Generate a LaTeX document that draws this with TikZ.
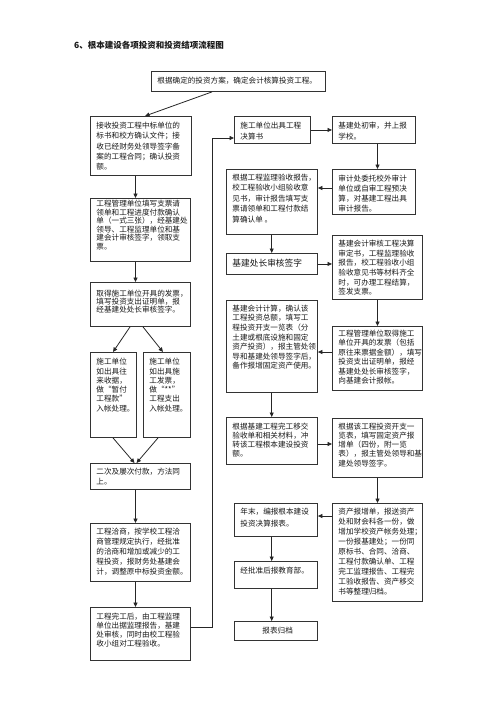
\documentclass[tikz,border=0pt]{standalone}
\usepackage{fontspec}
\newfontfamily\cjk{Noto Sans CJK SC}
\usetikzlibrary{arrows.meta,calc}
% #1 name, #2 x1, #3 y1, #4 x2, #5 y2, #6 font size, #7 line skip, #8 top pad, #9 text
\newcommand{\fbx}[9]{%
\node[boxst] (#1) at (#2,#3) {\begin{minipage}[c][\dimexpr #5pt-#3pt\relax][t]{\dimexpr #4pt-#2pt\relax}\cjk\fontsize{#6pt}{#7pt}\selectfont\leftskip=6pt\relax\vspace*{#8pt}#9\par\end{minipage}};}
\tikzset{
  boxst/.style={draw=black!80, line width=0.9pt, anchor=north west, inner sep=0pt, text=black!90},
  arr/.style={draw=black!85, line width=0.8pt, -{Triangle[length=4.5pt,width=4pt]}}
}
\begin{document}
\begin{tikzpicture}[x=1pt,y=-1pt]
\useasboundingbox[fill=white] (0,0) rectangle (500,707);
\node[anchor=west, inner sep=0pt, text=black!90, font=\cjk\bfseries\fontsize{8.5pt}{10pt}\selectfont] (title) at (74,45) {6、根本建设各项投资和投资结项流程图};
\fbx{T}{151}{71}{325}{91}{7.6}{10}{5.9}{根据确定的投资方案，确定会计核算投资工程。}
\fbx{B1}{90}{116}{191}{175}{7.6}{10.2}{5.9}{接收投资工程中标单位的\\标书和校方确认文件；接\\收已经财务处领导签字备\\案的工程合同；确认投资\\额。}
\fbx{B2}{90}{198}{190}{261}{7.6}{8.5}{1.8}{工程管理单位填写支票请\\领单和工程进度付款确认\\单（一式三张），经基建处\\领导、工程监理单位和基\\建会计审核签字，领取支\\票。}
\fbx{B3}{90}{282}{190}{326}{7.6}{8.3}{7.5}{取得施工单位开具的发票，\\填写投资支出证明单，报\\经基建处处长审核签字。}
\fbx{B4a}{90}{352}{136}{437}{7.6}{9.3}{5.9}{施工单位\\如出具往\\来收据，\\做“暂付\\工程款”\\入帐处理。}
\fbx{B4b}{143}{352}{190}{437}{7.6}{9.3}{5.9}{施工单位\\如出具施\\工发票，\\做“**”\\工程支出\\入帐处理。}
\fbx{B5}{90}{463}{190}{489}{7.6}{10}{4.9}{二次及屡次付款，方法同\\上。}
\fbx{B6}{90}{523}{190}{581}{7.6}{9.8}{4.9}{工程洽商，按学校工程洽\\商管理规定执行，经批准\\的洽商和增加或减少的工\\程投资，报财务处基建会\\计，调整原中标投资金额。}
\fbx{B7}{90}{607}{190}{660}{7.6}{9.1}{5.2}{工程完工后，由工程监理\\单位出据监理报告，基建\\处审核，同时由校工程验\\收小组对工程验收。}
\fbx{B8}{234}{116}{310}{143}{7.6}{11.5}{5.2}{施工单位出具工程\\决算书}
\fbx{B9}{332}{116}{415}{143}{7.6}{11}{5.2}{基建处初审，并上报\\学校。}
\fbx{B10}{332}{169}{415}{214}{7.6}{10}{5.5}{审计处委托校外审计\\单位或自审工程预决\\算，对基建工程出具\\审计报告。}
\fbx{B11}{226}{169}{317}{234}{7.6}{10.5}{4.5}{根据工程监理验收报告，\\校工程验收小组验收意\\见书，审计报告填写支\\票请领单和工程付款结\\算确认单 。}
\fbx{B12}{226}{253}{317}{274}{8.7}{10}{5.9}{基建处长审核签字}
\fbx{B13}{332}{235}{422}{299}{7.6}{9.7}{4.5}{基建会计审核工程决算\\审定书，工程监理验收\\报告，校工程验收小组\\验收意见书等材料齐全\\时，可办理工程结算，\\签发支票。}
\fbx{B14}{332}{326}{422}{390}{7.6}{9.5}{3.5}{工程管理单位取得施工\\单位开具的发票（包括\\原往来票据金额），填写\\投资支出证明单，报经\\基建处处长审核签字，\\向基建会计报帐。}
\fbx{B15}{226}{300}{317}{392}{7.6}{9.6}{4.5}{基建会计计算，确认该\\工程投资总额，填写工\\程投资开支一览表（分\\土建或根底设施和固定\\资产投资），报主管处领\\导和基建处领导签字后，\\备作报增固定资产使用。}
\fbx{B16}{226}{417}{317}{464}{7.6}{9.1}{5.2}{根据基建工程完工移交\\验收单和相关材料，冲\\转该工程根本建设投资\\额。}
\fbx{B17}{332}{418}{422}{477}{7.6}{9.3}{4.2}{根据该工程投资开支一\\览表，填写固定资产报\\增单（四份，附一览\\表），报主管处领导和基\\建处领导签字。}
\fbx{B18}{332}{503}{422}{601}{7.6}{10}{4.9}{资产报增单，报送资产\\处和财会科各一份，做\\增加学校资产帐务处理；\\一份报基建处；一份同\\原标书、合同、洽商、\\工程付款确认单、工程\\完工监理报告、工程完\\工验收报告、资产移交\\书等整理归档。}
\fbx{B19}{234}{503}{317}{536}{7.6}{11.7}{4.9}{年末，编报根本建设\\投资决算报表。}
\fbx{B20}{234}{561}{317}{588}{7.6}{10}{6}{经批准后报教育部。}
\fbx{B21}{234}{621}{317}{640}{7.6}{10}{5.9}{\hspace*{22pt}报表归档}
\coordinate (xL) at (135.5,0);
\coordinate (xM) at (271.7,0);
\coordinate (xR) at (377.5,0);
\draw[arr] ([xshift=61pt]T.south west) -- ([xshift=55pt]B1.north west);
\draw[arr] (B1.south -| xL) -- (B2.north -| xL);
\draw[arr] (B2.south -| xL) -- (B3.north -| xL);
\draw[arr] ([xshift=40pt]B3.south west) -- ([xshift=23pt]B4a.north west);
\draw[arr] ([xshift=53pt]B3.south west) -- ([xshift=20pt]B4b.north west);
\draw[arr] ([xshift=23pt]B4a.south west) -- ([xshift=44.5pt]B5.north west);
\draw[arr] ([xshift=15pt]B4b.south west) -- ([xshift=46.5pt]B5.north west);
\draw[arr] (B5.south -| xL) -- (B6.north -| xL);
\draw[arr] (B6.south -| xL) -- (B7.north -| xL);
\coordinate (c7) at (212,627);
\coordinate (c8) at (212,138);
\draw[arr] (B7.east |- c7) -- (c7) -- (c8) -- (B8.west |- c8);
\draw[arr] (B8.east) -- (B9.west |- B8.east);
\draw[arr] (B9.south -| xR) -- (B10.north -| xR);
\coordinate (y10) at (0,188);
\draw[arr] (B10.west |- y10) -- (B11.east |- y10);
\draw[arr] (B11.south -| xM) -- (B12.north -| xM);
\draw[arr] (B12.east) -- (B13.west |- B12.east);
\draw[arr] (B13.south -| xR) -- (B14.north -| xR);
\coordinate (y14) at (0,352);
\draw[arr] (B14.west |- y14) -- (B15.east |- y14);
\draw[arr] (B15.south -| xM) -- (B16.north -| xM);
\coordinate (y16) at (0,444);
\draw[arr] (B16.east |- y16) -- (B17.west |- y16);
\draw[arr] (B17.south -| xR) -- (B18.north -| xR);
\coordinate (y18) at (0,516);
\draw[arr] (B18.west |- y18) -- (B19.east |- y18);
\draw[arr] (B19.south -| xM) -- (B20.north -| xM);
\draw[arr] (B20.south -| xM) -- (B21.north -| xM);
\end{tikzpicture}
\end{document}
